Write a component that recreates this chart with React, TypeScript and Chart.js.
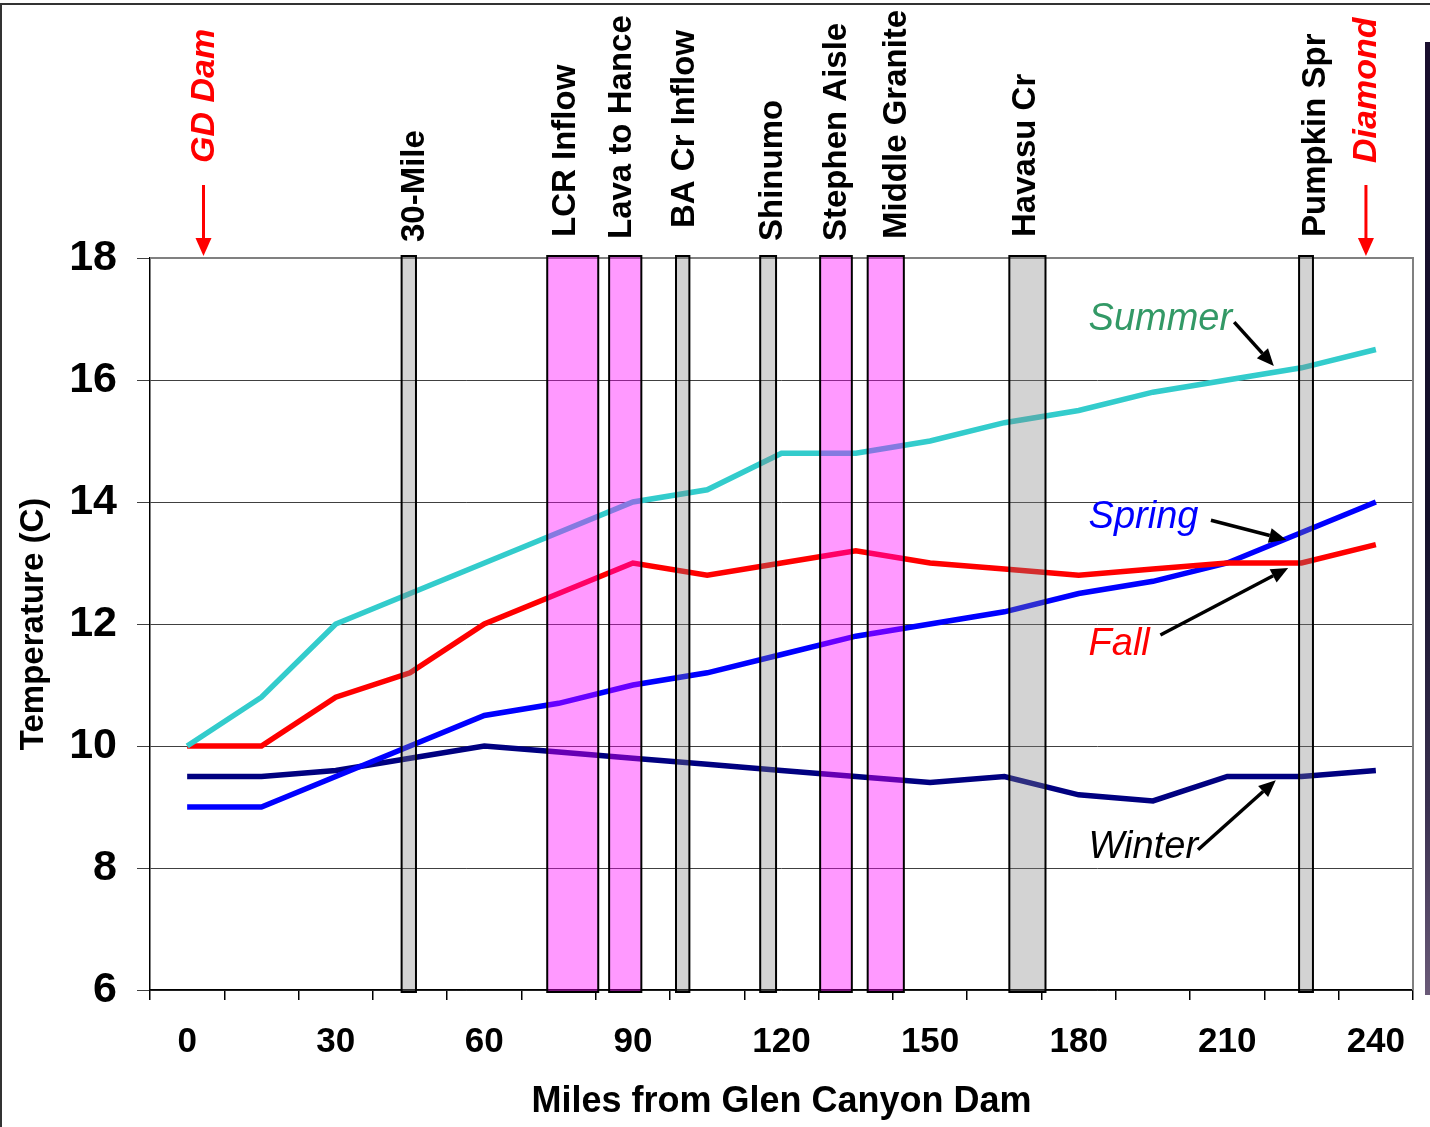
import React, { useEffect, useRef } from 'react';
import { Chart, registerables } from 'chart.js';

Chart.register(...registerables);

// ---- data ----
const miles = ['0', '15', '30', '45', '60', '75', '90', '105', '120', '135', '150', '165', '180', '195', '210', '225', '240'];
const summer = [10, 10.8, 12, 12.5, 13, 13.5, 14, 14.2, 14.8, 14.8, 15, 15.3, 15.5, 15.8, 16, 16.2, 16.5];
const fall = [10, 10, 10.8, 11.2, 12, 12.5, 13, 12.8, 13, 13.2, 13, 12.9, 12.8, 12.9, 13, 13, 13.3];
const spring = [9, 9, 9.5, 10, 10.5, 10.7, 11, 11.2, 11.5, 11.8, 12, 12.2, 12.5, 12.7, 13, 13.5, 14];
const winter = [9.5, 9.5, 9.6, 9.8, 10, 9.9, 9.8, 9.7, 9.6, 9.5, 9.4, 9.5, 9.2, 9.1, 9.5, 9.5, 9.6];
const yMin = 6;
const yMax = 18;
const yStep = 2;

// reaches (miles from dam)
const bandNames = ['30-Mile', 'LCR Inflow', 'Lava to Hance', 'BA Cr Inflow', 'Shinumo', 'Stephen Aisle', 'Middle Granite', 'Havasu Cr', 'Pumpkin Spr'];
const bandStart = [43.3, 72.7, 85.2, 98.7, 115.7, 127.8, 137.4, 166.0, 224.5];
const bandEnd = [46.2, 83.0, 91.7, 101.4, 118.9, 134.2, 144.7, 173.3, 227.3];
const bandKind = ['gray', 'pink', 'pink', 'gray', 'gray', 'pink', 'pink', 'gray', 'gray'];
const bandLabelMile = [45.9, 76.4, 87.7, 100.4, 118.3, 131.2, 143.3, 169.3, 227.9];
const bandLabelGap = [16, 21, 19, 30, 17, 17, 19, 21, 21];

const endNames = ['GD Dam', 'Diamond'];
const endMile = [3.3, 238.0];

// season callouts: text anchor and arrow (mile, temperature)
const noteText = ['Summer', 'Spring', 'Fall', 'Winter'];
const noteColor = ['#339966', '#0000FF', '#FF0000', '#000000'];
const noteMile = [182, 182, 182, 182];
const noteTemp = [16.82, 13.57, 11.49, 8.16];
const arrowFrom = [[211.4, 16.95], [206.7, 13.7], [196.5, 11.82], [204.1, 8.3]];
const arrowTo = [[219.4, 16.23], [221.9, 13.38], [222.3, 12.92], [219.8, 9.44]];

const FONT = "'Liberation Sans', Arial, Helvetica, sans-serif";

function mileToPx(chart: any, m: number) {
  const x = chart.scales.x;
  const p0 = x.getPixelForValue(0);
  const p1 = x.getPixelForValue(1);
  return p0 + ((p1 - p0) * m) / 15;
}

function drawArrow(ctx: CanvasRenderingContext2D, x1: number, y1: number, x2: number, y2: number, color: string, width: number, headLen: number, headW: number) {
  const ang = Math.atan2(y2 - y1, x2 - x1);
  const bx = x2 - headLen * Math.cos(ang);
  const by = y2 - headLen * Math.sin(ang);
  ctx.strokeStyle = color;
  ctx.lineWidth = width;
  ctx.lineCap = 'butt';
  ctx.beginPath();
  ctx.moveTo(x1, y1);
  ctx.lineTo(bx, by);
  ctx.stroke();
  ctx.fillStyle = color;
  ctx.beginPath();
  ctx.moveTo(x2, y2);
  ctx.lineTo(bx + (headW / 2) * Math.sin(ang), by - (headW / 2) * Math.cos(ang));
  ctx.lineTo(bx - (headW / 2) * Math.sin(ang), by + (headW / 2) * Math.cos(ang));
  ctx.closePath();
  ctx.fill();
}

const overlay = {
  id: 'overlay',
  beforeDatasetsDraw(chart: any) {
    const { ctx, chartArea: a } = chart;
    ctx.save();
    ctx.strokeStyle = '#808080';
    ctx.lineWidth = 2;
    ctx.beginPath();
    ctx.moveTo(a.left, a.top);
    ctx.lineTo(a.right, a.top);
    ctx.lineTo(a.right, a.bottom);
    ctx.stroke();
    ctx.restore();
  },
  afterDatasetsDraw(chart: any) {
    const { ctx, chartArea: a } = chart;
    ctx.save();
    for (let i = 0; i < bandNames.length; i++) {
      const x1 = mileToPx(chart, bandStart[i]);
      const x2 = mileToPx(chart, bandEnd[i]);
      ctx.fillStyle = bandKind[i] === 'pink' ? 'rgba(255,0,255,0.4)' : 'rgba(128,128,128,0.35)';
      ctx.fillRect(x1, a.top - 2, x2 - x1, a.bottom - a.top + 4);
      ctx.strokeStyle = '#000';
      ctx.lineWidth = 2;
      ctx.strokeRect(x1, a.top - 2, x2 - x1, a.bottom - a.top + 4);
    }
    ctx.restore();
  },
  afterDraw(chart: any) {
    const { ctx, chartArea: a, width, height } = chart;
    const y = chart.scales.y;
    ctx.save();
    // reach labels
    ctx.fillStyle = '#000';
    ctx.font = `bold 33px ${FONT}`;
    ctx.textAlign = 'left';
    ctx.textBaseline = 'middle';
    for (let i = 0; i < bandNames.length; i++) {
      const x = mileToPx(chart, bandLabelMile[i]);
      ctx.save();
      ctx.translate(x, a.top - bandLabelGap[i]);
      ctx.rotate(-Math.PI / 2);
      ctx.fillText(bandNames[i], 0, 0);
      ctx.restore();
    }
    // endpoints
    ctx.font = `italic bold 34px ${FONT}`;
    for (let i = 0; i < endNames.length; i++) {
      const x = mileToPx(chart, endMile[i]);
      ctx.fillStyle = '#FF0000';
      ctx.save();
      ctx.translate(x + 1, a.top - 95);
      ctx.rotate(-Math.PI / 2);
      ctx.fillText(endNames[i], 0, 0);
      ctx.restore();
      drawArrow(ctx, x, a.top - 73, x, a.top - 2, '#FF0000', 3, 18, 16);
    }
    // season callouts
    ctx.font = `italic 38px ${FONT}`;
    ctx.textBaseline = 'alphabetic';
    for (let i = 0; i < noteText.length; i++) {
      ctx.fillStyle = noteColor[i];
      ctx.fillText(noteText[i], mileToPx(chart, noteMile[i]), y.getPixelForValue(noteTemp[i]));
      drawArrow(
        ctx,
        mileToPx(chart, arrowFrom[i][0]), y.getPixelForValue(arrowFrom[i][1]),
        mileToPx(chart, arrowTo[i][0]), y.getPixelForValue(arrowTo[i][1]),
        '#000', 3.5, 17, 15
      );
    }
    // frame of the picture
    ctx.strokeStyle = '#333';
    ctx.lineWidth = 2;
    ctx.beginPath();
    ctx.moveTo(1, height);
    ctx.lineTo(1, 4);
    ctx.lineTo(width, 4);
    ctx.stroke();
    // dark strip at the right edge
    const g = ctx.createLinearGradient(0, 42, 0, 995);
    g.addColorStop(0, '#1a0f2e');
    g.addColorStop(0.5, '#14102a');
    g.addColorStop(0.8, '#3a3050');
    g.addColorStop(1, '#6a5a78');
    ctx.fillStyle = g;
    ctx.fillRect(1425, 42, 5, 953);
    ctx.restore();
  },
};

export default function App() {
  const ref = useRef<HTMLCanvasElement>(null);
  useEffect(() => {
    if (!ref.current) return;
    const chart = new Chart(ref.current, {
      type: 'line',
      data: {
        labels: miles,
        datasets: [
          { label: 'Summer', data: summer, borderColor: '#33CCCC' },
          { label: 'Fall', data: fall, borderColor: '#FF0000' },
          { label: 'Spring', data: spring, borderColor: '#0000FF' },
          { label: 'Winter', data: winter, borderColor: '#000080' },
        ].map((d) => ({ ...d, borderWidth: 5.5, pointRadius: 0, tension: 0, fill: false })),
      },
      options: {
        responsive: false,
        animation: false,
        events: [],
        layout: { padding: { top: 258, right: 17, left: 0, bottom: 0 } },
        plugins: { legend: { display: false }, tooltip: { enabled: false }, title: { display: false } },
        scales: {
          x: {
            type: 'category',
            offset: true,
            afterFit: (s: any) => { s.height = 137; },
            grid: { offset: true, drawOnChartArea: false, tickLength: 10, color: '#000', lineWidth: 1.5 },
            border: { color: '#000', width: 1.5 },
            ticks: {
              autoSkip: false,
              maxRotation: 0,
              padding: 21,
              color: '#000',
              font: { family: FONT, size: 35, weight: 'bold' },
              callback: (_v: any, i: number) => (i % 2 === 0 ? miles[i] : ''),
            },
            title: {
              display: true,
              text: 'Miles from Glen Canyon Dam',
              color: '#000',
              font: { family: FONT, size: 36, weight: 'bold' },
              padding: { top: 0, bottom: 3 },
            },
          },
          y: {
            min: yMin,
            max: yMax,
            afterFit: (s: any) => { s.width = 150; },
            grid: { color: '#404040', lineWidth: 1, tickLength: 13 },
            border: { color: '#000', width: 1.5 },
            ticks: {
              stepSize: yStep,
              padding: 20,
              color: '#000',
              font: { family: FONT, size: 43, weight: 'bold' },
            },
            title: {
              display: true,
              text: 'Temperature (C)',
              color: '#000',
              font: { family: FONT, size: 33, weight: 'bold' },
              padding: { top: 14, bottom: 0 },
            },
          },
        },
      },
      plugins: [overlay],
    } as any);
    return () => chart.destroy();
  }, []);
  return (
    <div style={{ position: 'absolute', left: 0, top: 0, width: 1430, height: 1127, background: '#fff' }}>
      <canvas ref={ref} width={1430} height={1127} style={{ display: 'block', width: 1430, height: 1127 }} />
    </div>
  );
}
